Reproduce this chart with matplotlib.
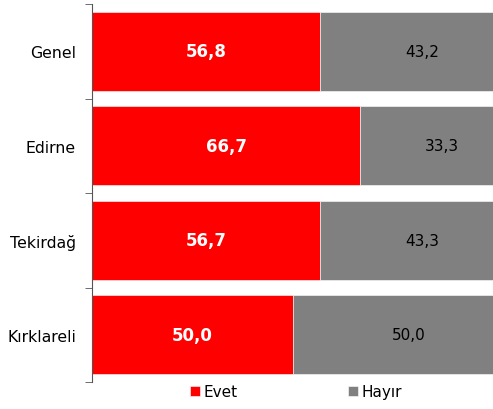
import matplotlib.pyplot as plt
import numpy as np

# veriler
iller = ['Genel', 'Edirne', 'Tekirdağ', 'Kırklareli']
evet = [56.8, 66.7, 56.7, 50.0]
hayir = [43.2, 33.3, 43.3, 50.0]

fig = plt.figure(figsize=(4.93, 4.10), dpi=100)
ax = fig.add_axes([92 / 493, 27 / 410, 402 / 493, 378 / 410])

y = np.arange(len(iller))
b1 = ax.barh(y, evet, height=0.84, color='#ff0000', label='Evet',
             edgecolor='#ffffff', linewidth=0.4)
b2 = ax.barh(y, hayir, left=evet, height=0.84, color='#808080', label='Hayır',
             edgecolor='#ffffff', linewidth=0.4)

for i in range(len(iller)):
    ax.annotate(f'{evet[i]:.1f}'.replace('.', ','), (evet[i] / 2, y[i]),
                ha='center', va='center', color='white', fontweight='bold',
                fontsize=12)
    ax.annotate(f'{hayir[i]:.1f}'.replace('.', ','),
                (evet[i] + hayir[i] / 2, y[i]), xytext=(11, 0),
                textcoords='offset points', ha='center', va='center',
                color='black', fontsize=11)

ax.set_xlim(0, 100)
ax.set_ylim(len(iller) - 0.5, -0.5)
ax.set_yticks(y)
ax.set_yticklabels(iller, fontsize=11.3)
ax.set_yticks(np.arange(-0.5, len(iller)), minor=True)
ax.tick_params(axis='y', which='major', length=0, pad=11.5)
ax.tick_params(axis='y', which='minor', length=5, color='#555555')
ax.set_xticks([])
for s in ['top', 'right', 'bottom']:
    ax.spines[s].set_visible(False)
ax.spines['left'].set_color('#555555')

fig.legend(handles=[b1, b2], loc='lower center', ncol=2, frameon=False,
           bbox_to_anchor=(0.6, -0.01), fontsize=11, handlelength=0.7,
           handleheight=0.7, handletextpad=0.2, columnspacing=7.2)

plt.savefig('out.png', dpi=100)
